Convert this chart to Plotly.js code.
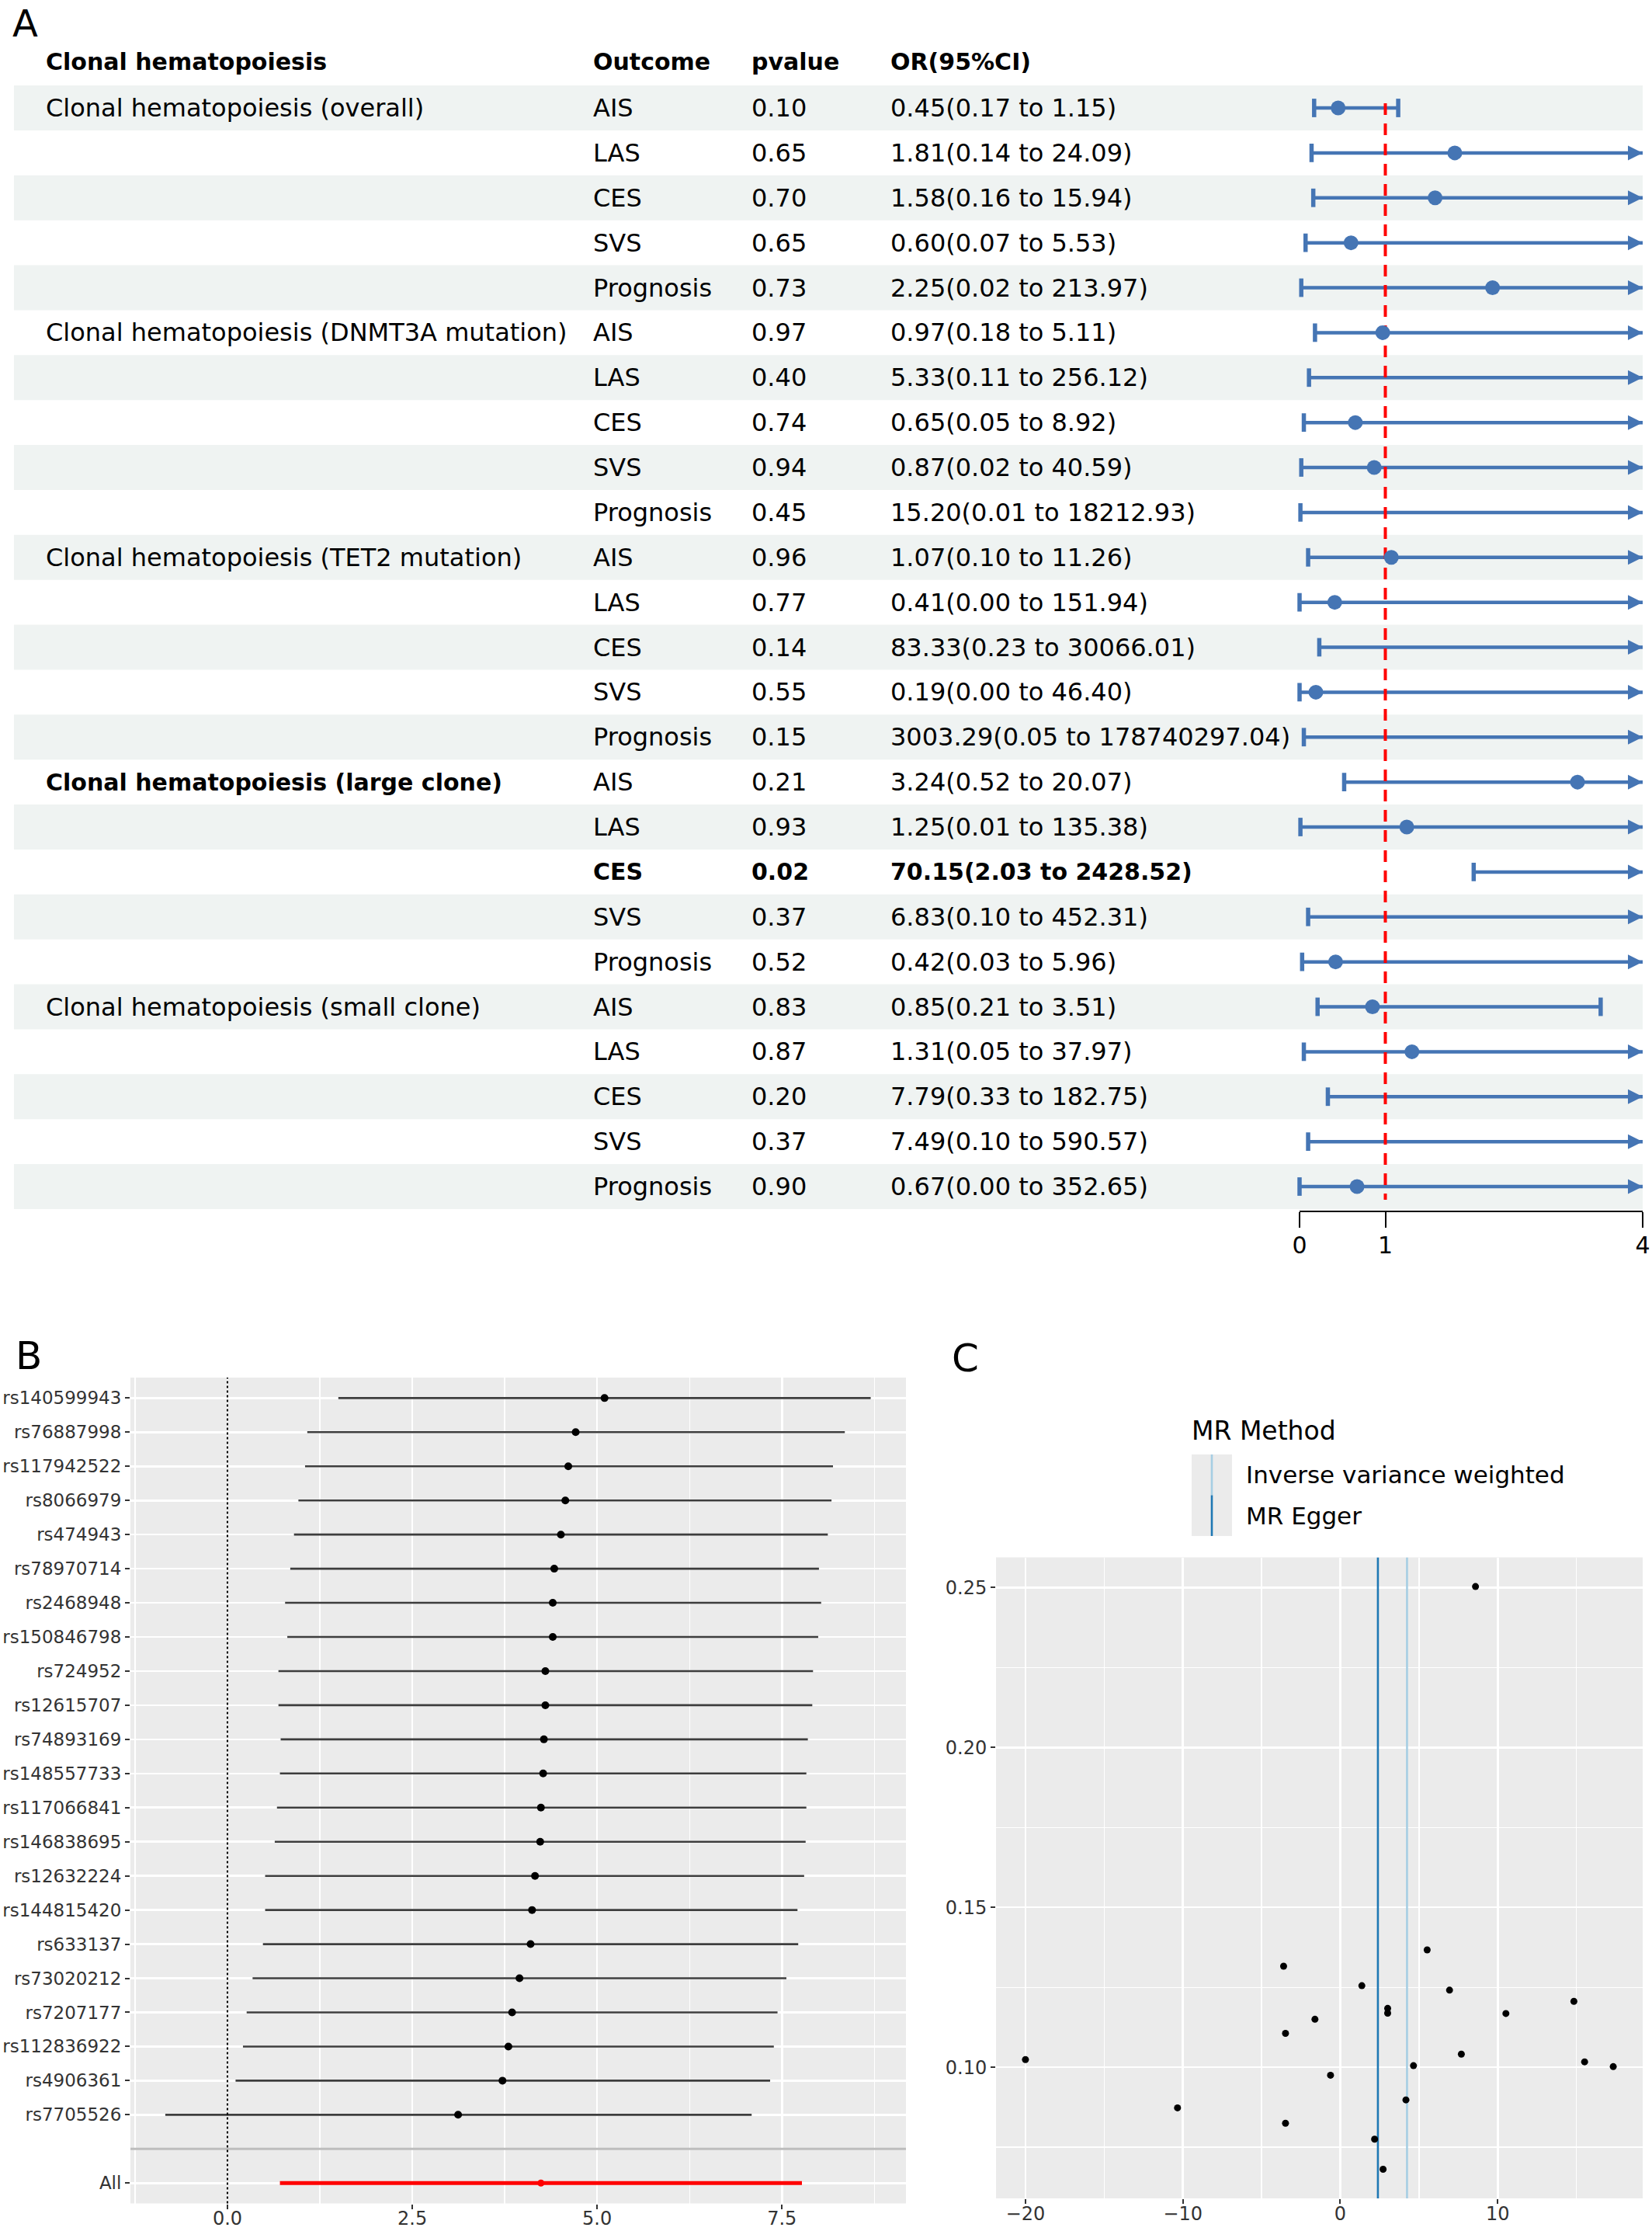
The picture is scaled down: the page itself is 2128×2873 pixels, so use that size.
<!DOCTYPE html>
<html><head><meta charset="utf-8">
<script src="https://cdn.plot.ly/plotly-3.0.1.min.js"></script>
<style>html,body{margin:0;padding:0;background:#fff;} #chart{width:2128px;height:2873px;}</style>
</head><body><div id="chart"></div>
<script>
// ---------------- Panel A data ----------------
const headersA = ["Clonal hematopoiesis", "Outcome", "pvalue", "OR(95%CI)"];
const exposures = ["Clonal hematopoiesis (overall)", "Clonal hematopoiesis (DNMT3A mutation)", "Clonal hematopoiesis (TET2 mutation)", "Clonal hematopoiesis (large clone)", "Clonal hematopoiesis (small clone)"];
const outcomes = ["AIS", "LAS", "CES", "SVS", "Prognosis"];
const pValues = [0.10,0.65,0.70,0.65,0.73, 0.97,0.40,0.74,0.94,0.45, 0.96,0.77,0.14,0.55,0.15, 0.21,0.93,0.02,0.37,0.52, 0.83,0.87,0.20,0.37,0.90];
const orEst = [0.45,1.81,1.58,0.60,2.25, 0.97,5.33,0.65,0.87,15.20, 1.07,0.41,83.33,0.19,3003.29, 3.24,1.25,70.15,6.83,0.42, 0.85,1.31,7.79,7.49,0.67];
const orLow = [0.17,0.14,0.16,0.07,0.02, 0.18,0.11,0.05,0.02,0.01, 0.10,0.00,0.23,0.00,0.05, 0.52,0.01,2.03,0.10,0.03, 0.21,0.05,0.33,0.10,0.00];
const orHigh = [1.15,24.09,15.94,5.53,213.97, 5.11,256.12,8.92,40.59,18212.93, 11.26,151.94,30066.01,46.40,178740297.04, 20.07,135.38,2428.52,452.31,5.96, 3.51,37.97,182.75,590.57,352.65];
const axisTicksA = [0, 1, 4];
const refValueA = 1;

// ---------------- Panel B data ----------------
const snps = ["rs140599943","rs76887998","rs117942522","rs8066979","rs474943","rs78970714","rs2468948","rs150846798","rs724952","rs12615707","rs74893169","rs148557733","rs117066841","rs146838695","rs12632224","rs144815420","rs633137","rs73020212","rs7207177","rs112836922","rs4906361","rs7705526"];
const snpEst = [5.10,4.71,4.61,4.57,4.51,4.42,4.40,4.40,4.30,4.30,4.28,4.27,4.24,4.23,4.16,4.12,4.10,3.95,3.85,3.80,3.72,3.12];
const snpLow = [1.50,1.08,1.05,0.96,0.90,0.85,0.78,0.81,0.69,0.69,0.72,0.71,0.67,0.64,0.51,0.51,0.48,0.34,0.26,0.21,0.11,-0.84];
const snpHigh = [8.70,8.35,8.19,8.17,8.12,8.00,8.03,7.99,7.92,7.91,7.85,7.83,7.83,7.82,7.80,7.71,7.72,7.56,7.44,7.39,7.34,7.09];
const allLabel = "All";
const allEst = 4.24, allLow = 0.71, allHigh = 7.77;
const ticksBx = [0, 2.5, 5, 7.5];

// ---------------- Panel C data ----------------
const funnelX = [-20.0,-10.34,-3.60,-3.48,-3.48,-1.61,-0.62,1.37,2.18,2.72,3.01,3.01,4.17,4.65,5.52,6.94,7.69,10.52,14.84,15.52,17.34,8.59];
const funnelY = [0.1024,0.0873,0.1316,0.1106,0.0825,0.1150,0.0975,0.1255,0.0775,0.0681,0.1184,0.1169,0.0898,0.1005,0.1367,0.1241,0.1041,0.1168,0.1206,0.1017,0.1002,0.2503];
const mrMethods = ["Inverse variance weighted", "MR Egger"];
const mrEst = [4.24, 2.39];
const mrColors = ["#a6cee3", "#1f78b4"];
const legendTitleC = "MR Method";
const ticksCx = [-20, -10, 0, 10];
const ticksCy = [0.10, 0.15, 0.20, 0.25];

// ---------------- geometry helpers ----------------
const W = 2128, H = 2873;
const PX = x => x / W, PY = y => 1 - y / H;
const A_ROW0 = 139, A_STEP = 57.875;
const yA = y => (y - A_ROW0) / A_STEP;
const FONT = 'DejaVu Sans';
const BLUE = '#4575b4';
const C_YRANGE = [0.059, 0.2594];

// ---------------- Panel A traces ----------------
const AX_MAX = axisTicksA[axisTicksA.length - 1];
const rowsA = orEst.map((_, i) => i);
const ciX = [], ciY = [], capX = [], capY = [], arrX = [], arrY = [], ptX = [], ptY = [];
rowsA.forEach(i => {
  const lo = Math.max(orLow[i], 0), hi = Math.min(orHigh[i], AX_MAX);
  ciX.push(lo, hi, null); ciY.push(i, i, null);
  capX.push(lo); capY.push(i);
  if (orHigh[i] > AX_MAX) { arrX.push(AX_MAX); arrY.push(i); }
  else { capX.push(orHigh[i]); capY.push(i); }
  if (orEst[i] <= AX_MAX) { ptX.push(orEst[i]); ptY.push(i); }
});

const traces = [
  {x: ciX, y: ciY, xaxis: 'x', yaxis: 'y', mode: 'lines', line: {color: BLUE, width: 4.5}, cliponaxis: false, hoverinfo: 'skip'},
  {x: capX, y: capY, xaxis: 'x', yaxis: 'y', mode: 'markers', marker: {symbol: 'line-ns', size: 17, color: BLUE, line: {color: BLUE, width: 5.5}}, cliponaxis: false, hoverinfo: 'skip'},
  {x: arrX, y: arrY, xaxis: 'x', yaxis: 'y', mode: 'markers', marker: {symbol: 'arrow-right', size: 19, color: BLUE, line: {width: 0}}, cliponaxis: false, hoverinfo: 'skip'},
  {x: [refValueA, refValueA], y: [yA(133), yA(1545)], xaxis: 'x', yaxis: 'y', mode: 'lines', line: {color: '#ff0000', width: 4, dash: '15px,11px'}, cliponaxis: false, hoverinfo: 'skip'},
  {x: ptX, y: ptY, xaxis: 'x', yaxis: 'y', mode: 'markers', marker: {symbol: 'circle', size: 19, color: BLUE}, cliponaxis: false, hoverinfo: 'skip'}
];

// ---------------- Panel B traces ----------------
const rowsB = snps.map((_, i) => i);
const allRow = snps.length + 1;
const bX = [], bY = [];
rowsB.forEach(i => { bX.push(snpLow[i], snpHigh[i], null); bY.push(i, i, null); });
traces.push(
  {x: bX, y: bY, xaxis: 'x2', yaxis: 'y2', mode: 'lines', line: {color: '#3d3d3d', width: 2.6}, hoverinfo: 'skip'},
  {x: snpEst, y: rowsB, xaxis: 'x2', yaxis: 'y2', mode: 'markers', marker: {color: '#000', size: 10}, hoverinfo: 'skip'},
  {x: [allLow, allHigh], y: [allRow, allRow], xaxis: 'x2', yaxis: 'y2', mode: 'lines', line: {color: '#ff0000', width: 5}, hoverinfo: 'skip'},
  {x: [allEst], y: [allRow], xaxis: 'x2', yaxis: 'y2', mode: 'markers', marker: {color: '#ff0000', size: 9}, hoverinfo: 'skip'}
);

// ---------------- Panel C traces ----------------
mrEst.forEach((v, k) => traces.push({x: [v, v], y: C_YRANGE, xaxis: 'x3', yaxis: 'y3', mode: 'lines', line: {color: mrColors[k], width: 2.6}, hoverinfo: 'skip'}));
traces.push({x: funnelX, y: funnelY, xaxis: 'x3', yaxis: 'y3', mode: 'markers', marker: {color: '#000', size: 9}, hoverinfo: 'skip'});

// ---------------- shapes ----------------
const shapes = [];
rowsA.forEach(i => {
  if (i % 2 === 0) shapes.push({type: 'rect', xref: 'paper', yref: 'y', x0: PX(18), x1: PX(2116), y0: i - 0.5, y1: i + 0.5, fillcolor: '#eff3f2', line: {width: 0}, layer: 'below'});
});
// ggplot grey panels
shapes.push({type: 'rect', xref: 'x2 domain', yref: 'y2 domain', x0: 0, x1: 1, y0: 0, y1: 1, fillcolor: '#ebebeb', line: {width: 0}, layer: 'below'});
shapes.push({type: 'rect', xref: 'x3 domain', yref: 'y3 domain', x0: 0, x1: 1, y0: 0, y1: 1, fillcolor: '#ebebeb', line: {width: 0}, layer: 'below'});
// B separator and zero line
shapes.push({type: 'line', xref: 'x2 domain', yref: 'y2', x0: 0, x1: 1, y0: snps.length, y1: snps.length, line: {color: '#bdbdbd', width: 3}});
shapes.push({type: 'line', xref: 'x2', yref: 'y2 domain', x0: 0, x1: 0, y0: 0, y1: 1, line: {color: '#000', width: 2, dash: 'dot'}});
// C legend keys
const keyTop = 1873, keyH = 52.5;
shapes.push({type: 'rect', xref: 'paper', yref: 'paper', x0: PX(1535), x1: PX(1587), y0: PY(keyTop), y1: PY(keyTop + 2 * keyH), fillcolor: '#ebebeb', line: {width: 0}});
mrMethods.forEach((m, k) => {
  shapes.push({type: 'line', xref: 'paper', yref: 'paper', x0: PX(1561), x1: PX(1561), y0: PY(keyTop + k * keyH), y1: PY(keyTop + (k + 1) * keyH), line: {color: mrColors[k], width: 2.6}});
});

// ---------------- annotations ----------------
const annotations = [];
function addText(text, x, y, xref, yref, size, bold, yanchor) {
  annotations.push({text: text, x: x, y: y, xref: xref, yref: yref, showarrow: false, xanchor: 'left', yanchor: yanchor || 'middle',
    font: {family: FONT, size: size, color: '#000', weight: bold ? 700 : 400}});
}
const COLX = [57, 762, 966, 1145].map(PX);
headersA.forEach((h, c) => addText(h, COLX[c], -1.03, 'paper', 'y', 30, true));
rowsA.forEach(i => {
  const g = Math.floor(i / outcomes.length), k = i % outcomes.length;
  const sig = pValues[i] < 0.05;
  if (k === 0) {
    const gsig = pValues.slice(i, i + outcomes.length).some(p => p < 0.05);
    addText(exposures[g], COLX[0], i, 'paper', 'y', gsig ? 30 : 32, gsig);
  }
  addText(outcomes[k], COLX[1], i, 'paper', 'y', sig ? 30 : 32, sig);
  addText(pValues[i].toFixed(2), COLX[2], i, 'paper', 'y', sig ? 30 : 32, sig);
  addText(orEst[i].toFixed(2) + '(' + orLow[i].toFixed(2) + ' to ' + orHigh[i].toFixed(2) + ')', COLX[3], i, 'paper', 'y', sig ? 30 : 32, sig);
});
// panel letters
addText('A', PX(14), 1, 'paper', 'paper', 48, false, 'top');
addText('B', PX(18), PY(1746), 'paper', 'paper', 50, false);
addText('C', PX(1224), PY(1749), 'paper', 'paper', 50, false);
// C legend text
addText(legendTitleC, PX(1533), PY(1842), 'paper', 'paper', 33, false);
mrMethods.forEach((m, k) => addText(m, PX(1603), PY(keyTop + (k + 0.5) * keyH), 'paper', 'paper', 31, false));

// ---------------- layout ----------------
const ggTick = {family: FONT, size: 24, color: '#333'};
const layout = {
  width: W, height: H, margin: {l: 0, r: 0, t: 0, b: 0},
  paper_bgcolor: '#ffffff', plot_bgcolor: 'rgba(0,0,0,0)', showlegend: false,
  font: {family: FONT, color: '#000'},
  xaxis: {domain: [PX(1674), PX(2116)], range: [0, AX_MAX], anchor: 'y', tickmode: 'array', tickvals: axisTicksA,
    showgrid: false, zeroline: false, showline: true, linecolor: '#000', linewidth: 2,
    ticks: 'outside', ticklen: 20, tickwidth: 2, tickcolor: '#000', tickfont: {family: FONT, size: 30, color: '#000'}, ticklabelstandoff: -3},
  yaxis: {domain: [PY(1559), 1], range: [yA(1559), yA(0)], anchor: 'x', visible: false},
  xaxis2: {domain: [PX(168), PX(1167)], range: [-1.312, 9.177], anchor: 'y2', tickmode: 'array', tickvals: ticksBx, tickformat: '.1f',
    showgrid: true, gridcolor: '#ffffff', gridwidth: 2.6, zeroline: false, showline: false,
    ticks: 'outside', ticklen: 6, tickwidth: 2, tickcolor: '#333', tickfont: ggTick, ticklabelstandoff: -8,
    minor: {tickmode: 'array', tickvals: [-1.25, 1.25, 3.75, 6.25, 8.75], showgrid: true, gridcolor: '#ffffff', gridwidth: 1.3, ticks: ''}},
  yaxis2: {domain: [PY(2837.6), PY(1774)], range: [allRow + 0.6, -0.6], anchor: 'x2', tickmode: 'array',
    tickvals: rowsB.concat([allRow]), ticktext: snps.concat([allLabel]),
    showgrid: true, gridcolor: '#ffffff', gridwidth: 2.6, zeroline: false, showline: false,
    ticks: 'outside', ticklen: 6, tickwidth: 2, tickcolor: '#333', tickfont: {family: FONT, size: 23, color: '#333'}},
  xaxis3: {domain: [PX(1283), PX(2116)], range: [-21.87, 19.21], anchor: 'y3', tickmode: 'array', tickvals: ticksCx,
    showgrid: true, gridcolor: '#ffffff', gridwidth: 2.6, zeroline: false, showline: false,
    ticks: 'outside', ticklen: 6, tickwidth: 2, tickcolor: '#333', tickfont: ggTick, ticklabelstandoff: -8,
    minor: {tickmode: 'array', tickvals: [-15, -5, 5, 15], showgrid: true, gridcolor: '#ffffff', gridwidth: 1.3, ticks: ''}},
  yaxis3: {domain: [PY(2831), PY(2005.6)], range: C_YRANGE, anchor: 'x3', tickmode: 'array', tickvals: ticksCy, tickformat: '.2f',
    showgrid: true, gridcolor: '#ffffff', gridwidth: 2.6, zeroline: false, showline: false,
    ticks: 'outside', ticklen: 6, tickwidth: 2, tickcolor: '#333', tickfont: ggTick,
    minor: {tickmode: 'array', tickvals: [0.075, 0.125, 0.175, 0.225], showgrid: true, gridcolor: '#ffffff', gridwidth: 1.3, ticks: ''}},
  shapes: shapes,
  annotations: annotations
};

Plotly.newPlot('chart', traces, layout, {staticPlot: true, displayModeBar: false});
</script>
</body></html>
